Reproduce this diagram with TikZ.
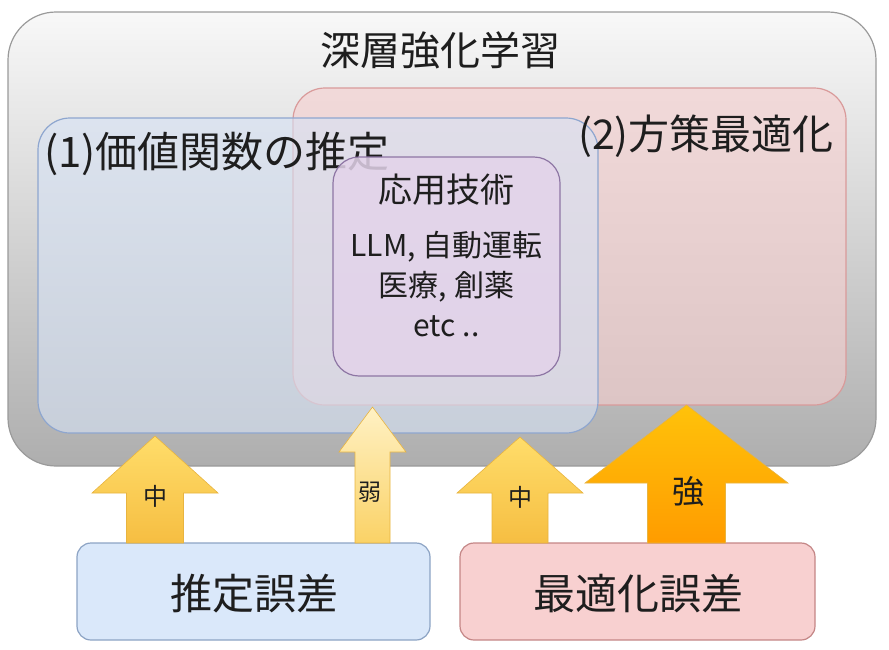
\documentclass[tikz,border=0pt]{standalone}
\usepackage{fontspec}
\setmainfont{Noto Sans CJK JP}
\usetikzlibrary{calc}
\definecolor{txt}{HTML}{1E1E1E}
\definecolor{outerTop}{HTML}{F8F8F8}
\definecolor{outerBot}{HTML}{AEAEAE}
\definecolor{outerLine}{HTML}{9A9A9A}
\definecolor{blueFill}{HTML}{D6E2F5}
\definecolor{blueLine}{HTML}{8EA6CF}
\definecolor{redFill}{HTML}{F6CECE}
\definecolor{redLine}{HTML}{D99A9A}
\definecolor{purpFill}{HTML}{E3D3EA}
\definecolor{purpLine}{HTML}{8E76A4}
\definecolor{estFill}{HTML}{DAE8FA}
\definecolor{estLine}{HTML}{8CA3C4}
\definecolor{optFill}{HTML}{F8D0D0}
\definecolor{optLine}{HTML}{C48686}
\definecolor{midTop}{HTML}{FFDD6A}
\definecolor{midBot}{HTML}{F6BE42}
\definecolor{weakTop}{HTML}{FFF1C4}
\definecolor{weakBot}{HTML}{FAD266}
\definecolor{strTop}{HTML}{FFC20A}
\definecolor{strBot}{HTML}{FF9C00}
\definecolor{arrLine}{HTML}{E8B440}
\tikzset{
  box/.style={rounded corners=#1, draw, line width=1.2pt, inner sep=0pt},
  lbl/.style={text=txt, inner sep=0pt, anchor=center},
  arrlbl/.style={text=txt, inner sep=0pt},
}
\begin{document}
\begin{tikzpicture}[x=1pt,y=-1pt]
\useasboundingbox (0,0) rectangle (889,649);
% outer box
\node[box=48pt, draw=outerLine, top color=outerTop, bottom color=outerBot,
      minimum width=868pt, minimum height=454pt] (outer) at (442,239) {};
\node[lbl, font=\fontsize{40}{42}\selectfont] (title) at (440,50) {深層強化学習};
% red box (2)
\node[box=32pt, draw=redLine, fill=redFill, fill opacity=0.6,
      minimum width=553pt, minimum height=317pt] (pol) at (569.5,246.5) {};
% blue box (1)
\node[box=32pt, draw=blueLine, fill=blueFill, fill opacity=0.6,
      minimum width=560pt, minimum height=315pt] (val) at (318,275.5) {};
\node[lbl, font=\fontsize{42}{44}\selectfont, anchor=west] (valt) at (44,154) {(1)価値関数の推定};
\node[lbl, font=\fontsize{41}{44}\selectfont, anchor=east] (polt) at (834,136) {(2)方策最適化};
% purple box
\node[box=26pt, draw=purpLine, fill=purpFill, fill opacity=0.85,
      minimum width=227pt, minimum height=219pt] (app) at (446.5,266.5) {};
\node[lbl, font=\fontsize{34}{36}\selectfont] (appt) at (446.5,190) {応用技術};
\node[lbl, font=\fontsize{30}{32}\selectfont] (app1) at (446.5,247) {LLM, 自動運転};
\node[lbl, font=\fontsize{30}{32}\selectfont] (app2) at (446.5,287) {医療, 創薬};
\node[lbl, font=\fontsize{30}{32}\selectfont] (app3) at (446.5,326) {etc ..};
% bottom boxes
\node[box=14pt, draw=estLine, fill=estFill,
      minimum width=353pt, minimum height=97pt] (est) at (253.5,591.5) {};
\node[lbl, font=\fontsize{42}{44}\selectfont] (estt) at (254,594) {推定誤差};
\node[box=14pt, draw=optLine, fill=optFill,
      minimum width=355pt, minimum height=97pt] (opt) at (637.5,591.5) {};
\node[lbl, font=\fontsize{42}{44}\selectfont] (optt) at (638,594) {最適化誤差};
% block arrows
\path[draw=arrLine, line width=0.6pt, top color=midTop, bottom color=midBot]
  (126.5,543) -- (126.5,493) -- (92,493) -- (155,436) -- (218,493) -- (183.5,493) -- (183.5,543) -- cycle;
\path[draw=arrLine, line width=0.6pt, top color=weakTop, bottom color=weakBot]
  (355,543) -- (355,452) -- (339,452) -- (372.5,407) -- (406,452) -- (390,452) -- (390,543) -- cycle;
\path[draw=arrLine, line width=0.6pt, top color=midTop, bottom color=midBot]
  (492,543) -- (492,493) -- (457,493) -- (520,437) -- (583,493) -- (548,493) -- (548,543) -- cycle;
\path[draw=arrLine, line width=0.6pt, top color=strTop, bottom color=strBot]
  (647.5,543) -- (647.5,483) -- (585,483) -- (686.5,405) -- (788,483) -- (725.5,483) -- (725.5,543) -- cycle;
\node[arrlbl, font=\fontsize{24}{26}\selectfont] (a1) at (155,496) {中};
\node[arrlbl, font=\fontsize{23}{25}\selectfont] (a2) at (370,492) {弱};
\node[arrlbl, font=\fontsize{24}{26}\selectfont] (a3) at (520,497) {中};
\node[arrlbl, font=\fontsize{32}{34}\selectfont] (a4) at (688,491) {強};
\end{tikzpicture}
\end{document}
